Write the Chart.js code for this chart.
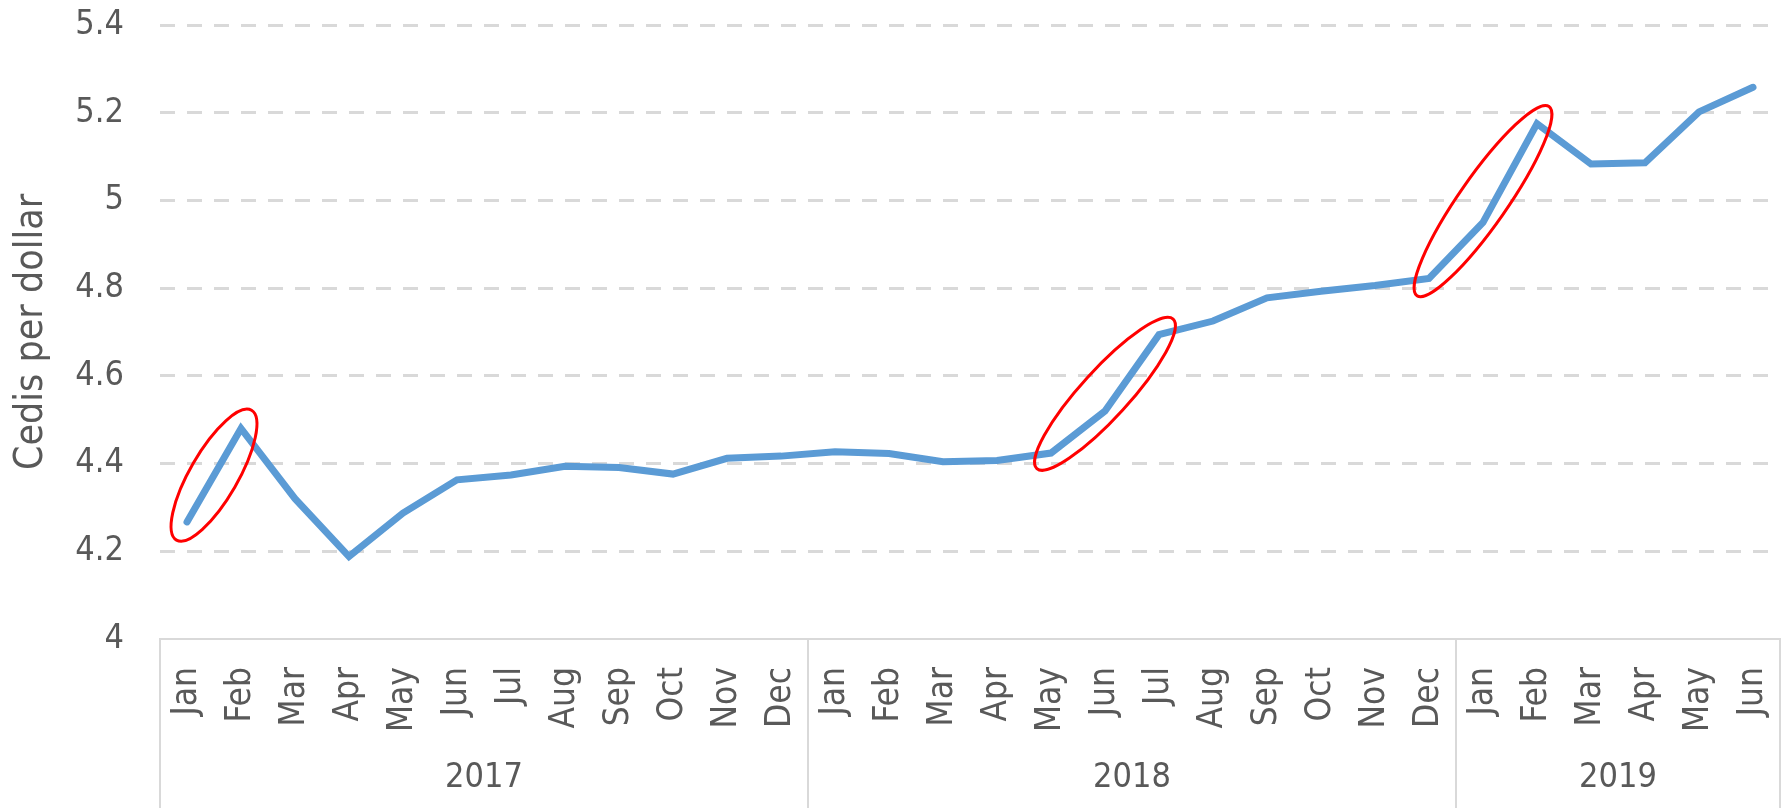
<!DOCTYPE html>
<html>
<head>
<meta charset="utf-8">
<script src="https://cdn.jsdelivr.net/npm/chart.js@4.4.0/dist/chart.umd.min.js"></script>
<style>
  body { margin: 0; background: #fff; }
</style>
</head>
<body>
<canvas id="mycanvas" width="1787" height="808"></canvas>
<script>
var months = ['Jan','Feb','Mar','Apr','May','Jun','Jul','Aug','Sep','Oct','Nov','Dec',
              'Jan','Feb','Mar','Apr','May','Jun','Jul','Aug','Sep','Oct','Nov','Dec',
              'Jan','Feb','Mar','Apr','May','Jun'];
var years = ['2017', '2018', '2019'];
var yearSpans = [12, 12, 6];
var rates = [4.267, 4.480, 4.320, 4.188, 4.287, 4.363, 4.374, 4.394, 4.391, 4.376, 4.412, 4.417,
             4.427, 4.423, 4.404, 4.407, 4.424, 4.520, 4.694, 4.725, 4.778, 4.793, 4.806, 4.822,
             4.950, 5.175, 5.083, 5.086, 5.202, 5.258];
// circled stretches, as [first month index, last month index]
var rings = [[0, 1], [16, 18], [23, 25]];

var FONT = "'DejaVu Sans Condensed', 'DejaVu Sans', sans-serif";
var TEXT = '#595959';
var GRID = '#d9d9d9';

var ringPlugin = {
	id: 'rings',
	afterDatasetsDraw: function(chart) {
		var ctx = chart.ctx;
		var pts = chart.getDatasetMeta(0).data;
		ctx.save();
		ctx.strokeStyle = '#ff0000';
		ctx.lineWidth = 3;
		rings.forEach(function(r) {
			var p1 = pts[r[0]], p2 = pts[r[1]];
			var dx = p2.x - p1.x, dy = p2.y - p1.y;
			var half = Math.sqrt(dx * dx + dy * dy) / 2;
			ctx.beginPath();
			ctx.ellipse((p1.x + p2.x) / 2, (p1.y + p2.y) / 2, half + 21, 24, Math.atan2(dy, dx), 0, Math.PI * 2);
			ctx.stroke();
		});
		ctx.restore();
	}
};

var yearPlugin = {
	id: 'years',
	afterDraw: function(chart) {
		var ctx = chart.ctx;
		var x = chart.scales.x;
		var area = chart.chartArea;
		var step = x.width / months.length;
		ctx.save();
		ctx.strokeStyle = GRID;
		ctx.lineWidth = 2;
		ctx.fillStyle = TEXT;
		ctx.font = '34px ' + FONT;
		ctx.textAlign = 'center';
		ctx.textBaseline = 'middle';
		var start = 0;
		var edges = [x.getPixelForValue(0) - step / 2];
		years.forEach(function(y, i) {
			var end = start + yearSpans[i];
			var x0 = x.getPixelForValue(start) - step / 2;
			var x1 = x.getPixelForValue(end - 1) + step / 2;
			edges.push(x1);
			ctx.fillText(y, (x0 + x1) / 2, chart.height - 30);
			start = end;
		});
		edges.forEach(function(px) {
			ctx.beginPath();
			ctx.moveTo(px, area.bottom);
			ctx.lineTo(px, chart.height);
			ctx.stroke();
		});
		ctx.restore();
	}
};

var chartdata = {
	labels: months,
	datasets: [{
		label: 'Cedis per dollar',
		data: rates,
		borderColor: '#5b9bd5',
		borderWidth: 7,
		borderCapStyle: 'round',
		pointRadius: 0,
		tension: 0,
		fill: false
	}]
};

var ctx = document.getElementById('mycanvas');
var lineGraph = new Chart(ctx, {
	type: 'line',
	data: chartdata,
	plugins: [ringPlugin, yearPlugin],
	options: {
		responsive: false,
		animation: false,
		devicePixelRatio: 1,
		layout: { padding: { top: 25, right: 7, left: 0, bottom: 0 } },
		plugins: {
			legend: { display: false },
			tooltip: { enabled: false }
		},
		scales: {
			x: {
				offset: true,
				grid: { display: false },
				border: { display: true, color: GRID, width: 2 },
				ticks: {
					color: TEXT,
					font: { family: FONT, size: 35 },
					maxRotation: 90,
					minRotation: 90,
					autoSkip: false,
					padding: 20
				},
				afterFit: function(scale) {
					scale.height = 169;
					scale.paddingLeft = 0;
					scale.paddingRight = 0;
				}
			},
			y: {
				min: 4,
				max: 5.4,
				grid: {
					color: function(c) { return c.tick && c.tick.value === 4 ? 'rgba(0,0,0,0)' : GRID; },
					lineWidth: 3,
					drawTicks: false
				},
				border: { display: false, dash: [15, 12] },
				ticks: {
					stepSize: 0.2,
					color: TEXT,
					font: { family: FONT, size: 34 },
					padding: 36,
					callback: function(v) { return String(Number(v.toFixed(1))); }
				},
				title: {
					display: true,
					text: 'Cedis per dollar',
					color: TEXT,
					font: { family: FONT, size: 39 },
					padding: { top: 8, bottom: 0 }
				},
				afterFit: function(scale) {
					scale.width = 160;
					scale.paddingTop = 0;
					scale.paddingBottom = 0;
				}
			}
		}
	}
});
</script>
</body>
</html>
